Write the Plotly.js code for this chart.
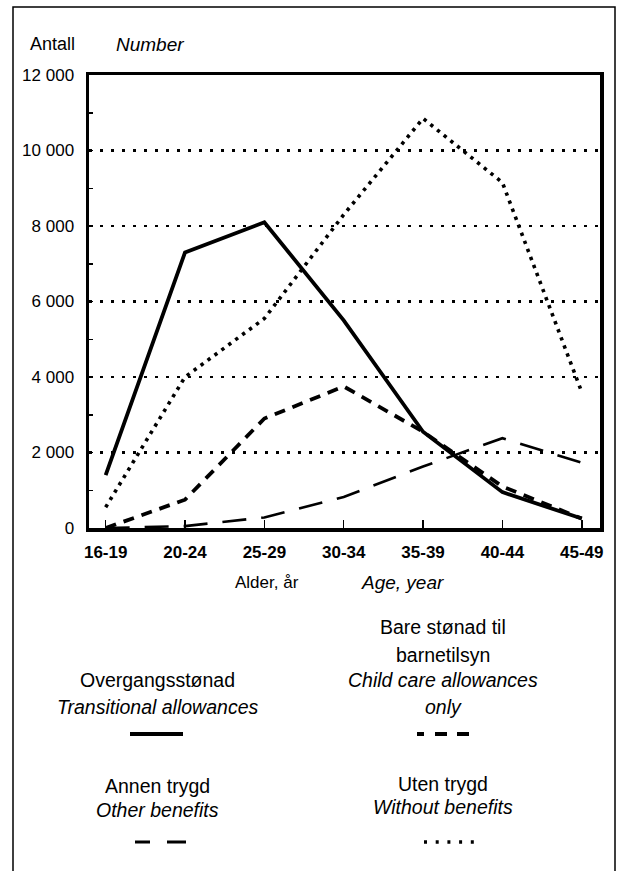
<!DOCTYPE html>
<html>
<head>
<meta charset="utf-8">
<script src="https://cdn.plot.ly/plotly-3.0.1.min.js"></script>
<style>
  html, body { margin: 0; padding: 0; background: #fff; }
  #chart { width: 617px; height: 871px; }
</style>
</head>
<body>
<div id="chart"></div>
<script>
// ---- Data ----
const categories = ['16-19', '20-24', '25-29', '30-34', '35-39', '40-44', '45-49'];
const transitional = [1400, 7300, 8100, 5500, 2550, 950, 250];   // Overgangsstønad
const childCare = [0, 750, 2900, 3750, 2550, 1100, 250];          // Bare stønad til barnetilsyn
const otherBenefits = [0, 50, 280, 820, 1630, 2380, 1730];        // Annen trygd
const withoutBenefits = [550, 4000, 5550, 8300, 10850, 9150, 3600]; // Uten trygd
const yTickVals = [0, 2000, 4000, 6000, 8000, 10000, 12000];

// ---- Layout geometry (pixels) ----
const W = 617, H = 871;
const L = 89, R = 600, T = 75, B = 528;
const pw = R - L, ph = B - T;
const px = x => (x - L) / pw;
const py = y => (B - y) / ph;

const FONT = 'Liberation Sans, Arial, Helvetica, sans-serif';

const traces = [
  { x: categories, y: transitional, name: 'Overgangsstønad', type: 'scatter', mode: 'lines',
    line: { color: '#000', width: 3.8 } },
  { x: categories, y: childCare, name: 'Bare stønad til barnetilsyn', type: 'scatter', mode: 'lines',
    line: { color: '#000', width: 3.8, dash: '11px,8px' } },
  { x: categories, y: otherBenefits, name: 'Annen trygd', type: 'scatter', mode: 'lines',
    line: { color: '#000', width: 2.6, dash: '24px,15px' } },
  { x: categories, y: withoutBenefits, name: 'Uten trygd', type: 'scatter', mode: 'lines',
    line: { color: '#000', width: 3.6, dash: '3.4px,5.2px' } }
];

function txt(text, x, y, size, italic, extra) {
  return Object.assign({
    text: text, xref: 'paper', yref: 'paper', x: px(x), y: py(y),
    xanchor: 'center', yanchor: 'middle', showarrow: false,
    font: { family: FONT, size: size, color: '#000', style: italic ? 'italic' : 'normal' }
  }, extra || {});
}

const annotations = [
  txt('Antall', 52, 44, 18, false),
  txt('Number', 150, 44, 19, true),
  txt('Alder, år', 267, 582, 17, false),
  txt('Age, year', 402, 582, 19, true),
  // legend left column
  txt('Overgangsstønad', 157, 680, 19.5, false),
  txt('Transitional allowances', 157, 707, 19.5, true),
  txt('Annen trygd', 157, 786, 19.5, false),
  txt('Other benefits', 157, 810, 19.5, true),
  // legend right column
  txt('Bare stønad til', 443, 627, 19.5, false),
  txt('barnetilsyn', 443, 655, 19.5, false),
  txt('Child care allowances', 443, 680, 19.5, true),
  txt('only', 443, 707, 19.5, true),
  txt('Uten trygd', 443, 784, 19.5, false),
  txt('Without benefits', 443, 807, 19.5, true)
];

function seg(x0, x1, y, width, dash) {
  return { type: 'line', xref: 'paper', yref: 'paper', x0: px(x0), x1: px(x1), y0: py(y), y1: py(y),
    line: { color: '#000', width: width, dash: dash || 'solid' } };
}

const shapes = [
  // outer frame
  { type: 'rect', xref: 'paper', yref: 'paper', x0: px(13), x1: px(615), y0: py(880), y1: py(7),
    line: { color: '#000', width: 1.5 }, layer: 'below' },
  // legend samples
  seg(130, 183, 734, 4),
  seg(417, 469, 734, 4, '7px,11px,12px,10px,12px,10px'),
  seg(135, 186, 842, 3, '15px,17px,19px,10px'),
  seg(424, 476, 842, 3.5, '3px,8.7px')
];

const layout = {
  width: W, height: H,
  margin: { l: L, r: W - R, t: T, b: H - B, pad: 0 },
  paper_bgcolor: '#fff', plot_bgcolor: '#fff',
  showlegend: false,
  separators: ', ',
  font: { family: FONT, color: '#000' },
  xaxis: {
    type: 'category', range: [-0.21, 6.23], fixedrange: true,
    showline: true, linecolor: '#000', linewidth: 3.5, mirror: true,
    showgrid: false, zeroline: false,
    ticks: 'inside', ticklen: 8, tickwidth: 1.5, tickcolor: '#000',
    tickfont: { family: FONT, size: 17, color: '#000', weight: 'bold' },
    ticklabelstandoff: 6
  },
  yaxis: {
    range: [0, 12000], fixedrange: true,
    tickvals: yTickVals, tickformat: ',d',
    showline: true, linecolor: '#000', linewidth: 3.5, mirror: true,
    showgrid: true, gridcolor: '#000', gridwidth: 2.5, griddash: '2.5px,8.5px',
    zeroline: false,
    ticks: 'inside', ticklen: 4, tickwidth: 1.5, tickcolor: '#000',
    minor: { dtick: 1000, ticks: 'inside', ticklen: 4, tickwidth: 1.5, tickcolor: '#000', showgrid: false },
    tickfont: { family: FONT, size: 17, color: '#000' },
    ticklabelstandoff: 8
  },
  annotations: annotations,
  shapes: shapes
};

Plotly.newPlot('chart', traces, layout, { staticPlot: true, displayModeBar: false });
</script>
</body>
</html>
